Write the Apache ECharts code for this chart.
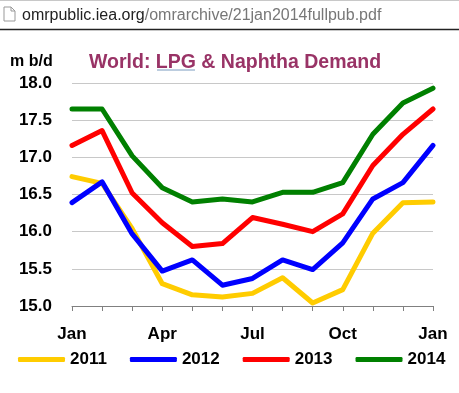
<!DOCTYPE html>
<html><head><meta charset="utf-8">
<script src="https://cdn.jsdelivr.net/npm/echarts@6/dist/echarts.min.js"></script>
<style>html,body{margin:0;padding:0;background:#fff}#c{width:459px;height:393px}</style>
</head><body><div id="c"></div>
<script>
const months = ['Jan','Feb','Mar','Apr','May','Jun','Jul','Aug','Sep','Oct','Nov','Dec','Jan'];
const years = ['2011','2012','2013','2014'];
const s2011 = [16.74,16.65,16.04,15.30,15.15,15.12,15.17,15.38,15.04,15.22,15.98,16.39,16.40];
const s2012 = [16.39,16.67,15.97,15.47,15.62,15.28,15.37,15.62,15.49,15.85,16.44,16.66,17.16];
const s2013 = [17.16,17.36,16.52,16.12,15.80,15.84,16.19,16.10,16.00,16.24,16.89,17.31,17.65];
const s2014 = [17.65,17.65,17.02,16.59,16.40,16.44,16.40,16.53,16.53,16.66,17.31,17.73,17.93];
const colors = ['#FFCC00','#0000FF','#FF0000','#008000'];
const FONT = '"Liberation Sans", Arial, sans-serif';

const chart = echarts.init(document.getElementById('c'), null, {renderer:'canvas'});
const seriesData = [s2011, s2012, s2013, s2014];
chart.setOption({
  animation: false,
  backgroundColor: '#fff',
  grid: {left: 72, right: 26, top: 83, bottom: 87, containLabel: false},
  xAxis: {
    type: 'category', data: months, boundaryGap: false,
    axisLine: {lineStyle: {color: '#808080', width: 1}},
    axisTick: {show: true, interval: 0, length: 5, lineStyle: {color: '#808080'}},
    axisLabel: {interval: 2, margin: 20, color: '#000', fontWeight: 'bold', fontSize: 17, fontFamily: FONT},
    splitLine: {show: false}
  },
  yAxis: {
    type: 'value', min: 15, max: 18, interval: 0.5,
    axisLine: {show: false}, axisTick: {show: false},
    axisLabel: {margin: 20, color: '#000', fontWeight: 'bold', fontSize: 17, fontFamily: FONT,
      formatter: v => v.toFixed(1)},
    splitLine: {lineStyle: {color: '#c8c8c8', width: 1}}
  },
  legend: {
    data: years, left: 18, top: 351, padding: 0, icon: 'roundRect', itemWidth: 47, itemHeight: 5, itemGap: 23,
    textStyle: {color: '#000', fontWeight: 'bold', fontSize: 17, fontFamily: FONT}
  },
  series: years.map((y, i) => ({
    name: y, type: 'line', data: seriesData[i], symbol: 'none',
    lineStyle: {color: colors[i], width: 5, cap: 'round', join: 'round'},
    itemStyle: {color: colors[i]}
  })),
  graphic: [
    {type: 'line', shape: {x1: 0, y1: 0.5, x2: 459, y2: 0.5}, style: {stroke: '#c8c8c8', lineWidth: 1}},
    {type: 'line', shape: {x1: 0, y1: 29.5, x2: 459, y2: 29.5}, style: {stroke: '#222', lineWidth: 1.5}},
    {type: 'polygon', shape: {points: [[4,7],[11,7],[15,11],[15,21],[4,21]]}, style: {fill: '#fff', stroke: '#999', lineWidth: 1}},
    {type: 'polyline', shape: {points: [[11,7],[11,11],[15,11]]}, style: {fill: null, stroke: '#999', lineWidth: 1}},
    {type: 'text', left: 22, top: 8, style: {
      text: '{a|omrpublic.iea.org}{b|/omrarchive/21jan2014fullpub.pdf}',
      rich: {a: {fill: '#222', fontSize: 16, fontFamily: FONT}, b: {fill: '#777', fontSize: 16, fontFamily: FONT}}
    }},
    {type: 'text', left: 10, top: 54, style: {text: 'm b/d', fill: '#000', fontWeight: 'bold', fontSize: 16, fontFamily: FONT}},
    {type: 'text', left: 89, top: 53, style: {text: 'World: LPG & Naphtha Demand', fill: '#993366', fontWeight: 'bold', fontSize: 19.5, fontFamily: FONT}},
    {type: 'line', shape: {x1: 157, y1: 70, x2: 195, y2: 70}, style: {stroke: '#7a9cc0', lineWidth: 1}}
  ]
});
</script></body></html>
